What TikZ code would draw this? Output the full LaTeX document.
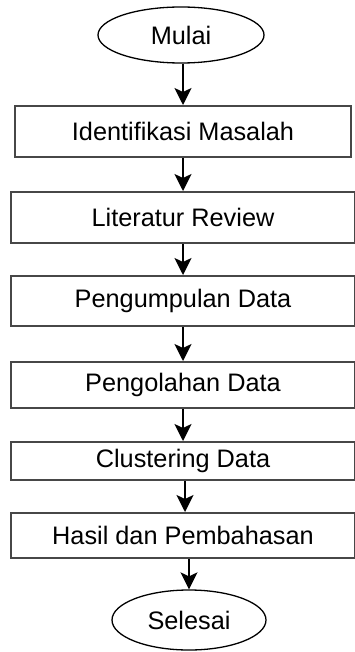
\documentclass[tikz,border=0pt]{standalone}
\usepackage{fontspec}
\setmainfont{Liberation Sans}
\usetikzlibrary{shapes.geometric,arrows.meta}
\begin{document}
\begin{tikzpicture}[x=1pt,y=-1pt,
  box/.style={draw=black!72,line width=2pt,fill=white,rectangle,inner sep=0pt,font=\fontsize{25.3}{29}\selectfont},
  term/.style={draw=black,line width=1.3pt,fill=white,ellipse,inner sep=0pt,font=\fontsize{25.3}{29}\selectfont},
  arr/.style={draw=black,line width=1.5pt,-{Stealth[length=17pt,width=17pt,inset=4pt]}}]
\useasboundingbox[fill=white] (0,0) rectangle (354,652);
\node[term,minimum width=166pt,minimum height=56pt] (mulai) at (181,35) {Mulai};
\node[box,minimum width=336pt,minimum height=51pt] (b1) at (183,131.5) {Identifikasi Masalah};
\node[box,minimum width=344pt,minimum height=51pt] (b2) at (183,217.5) {Literatur Review};
\node[box,minimum width=344pt,minimum height=50pt] (b3) at (183,301) {Pengumpulan Data};
\node[box,minimum width=344pt,minimum height=46pt] (b4) at (183,385) {Pengolahan Data};
\node[box,minimum width=344pt,minimum height=38pt] (b5) at (183,461) {Clustering Data};
\node[box,minimum width=344pt,minimum height=45pt] (b6) at (183,535.5) {Hasil dan Pembahasan};
\node[term,minimum width=154pt,minimum height=60pt] (sel) at (189,620) {Selesai};
\draw[arr] (mulai.south -| b1.north) -- (b1.north);
\draw[arr] (b1.south) -- (b2.north);
\draw[arr] (b2.south) -- (b3.north);
\draw[arr] (b3.south) -- (b4.north);
\draw[arr] (b4.south) -- (b5.north);
\draw[arr] (b5.south -| 185,0) -- (b6.north -| 185,0);
\draw[arr] (b6.south -| sel.north) -- (sel.north);
\end{tikzpicture}
\end{document}
